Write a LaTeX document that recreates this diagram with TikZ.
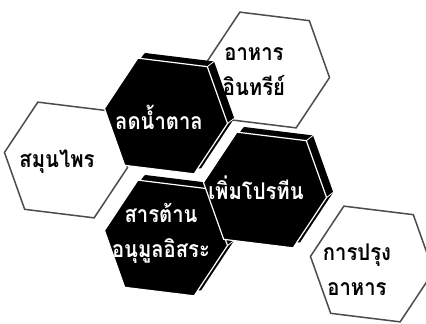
\documentclass[tikz,border=0pt]{standalone}
\usepackage{fontspec}
\newfontfamily\thaifont[Script=Thai, FakeStretch=0.88]{Loma}
\usetikzlibrary{calc}

\begin{document}
\begin{tikzpicture}[
  x=1pt, y=1pt,
  lighthex/.pic={
    \filldraw[fill=white, draw=black!70, line width=1.5pt]
      (-35,54) -- (35,54) -- (62,0) -- (35,-54)
      -- (-35,-54) -- (-62,0) -- cycle;
  },
  darkhex/.pic={
    % back face, pushed up and to the right
    \fill[black] (-29,60) -- (41,60) -- (68,6) -- (41,-48)
      -- (-29,-48) -- (-56,6) -- cycle;
    \foreach \corner in {(-35,54),(35,54),(62,0),(35,-54)}
      \draw[white, line width=0.8pt] \corner -- ++(6,6);
    % front face
    \filldraw[fill=black, draw=white, line width=1.2pt]
      (-35,54) -- (35,54) -- (62,0) -- (35,-54)
      -- (-35,-54) -- (-62,0) -- cycle;
  },
  hextext/.style={
    align=center, inner sep=0pt,
    font=\thaifont\bfseries\fontsize{23}{35}\selectfont
  },
  lighttext/.style={hextext, text=black},
  darktext/.style={hextext, text=white}
]
  \useasboundingbox (0,0) rectangle (426,324);

  % white cells
  \pic[rotate=-7] at (66,164) {lighthex};
  \pic[rotate=-7] at (268,254) {lighthex};
  \pic[rotate=-7] at (372,60) {lighthex};

  % black cells
  \pic[rotate=-7] at (166,86) {darkhex};
  \pic[rotate=-7] at (166,208) {darkhex};
  \pic[rotate=-7] at (265,134) {darkhex};

  \node[lighttext] (herbs) at (57,162) {สมุนไพร};
  \node[lighttext] (organic) at (254,252) {อาหาร\\อินทรีย์};
  \node[lighttext] (cooking) at (357,54) {การปรุง\\อาหาร};
  \node[darktext] (sugar) at (159,207) {ลดน้ำตาล};
  \node[darktext] (protein) at (256,136) {เพิ่มโปรทีน};
  \node[darktext] (antiox) at (161,91) {สารต้าน\\อนุมูลอิสระ};
\end{tikzpicture}
\end{document}
